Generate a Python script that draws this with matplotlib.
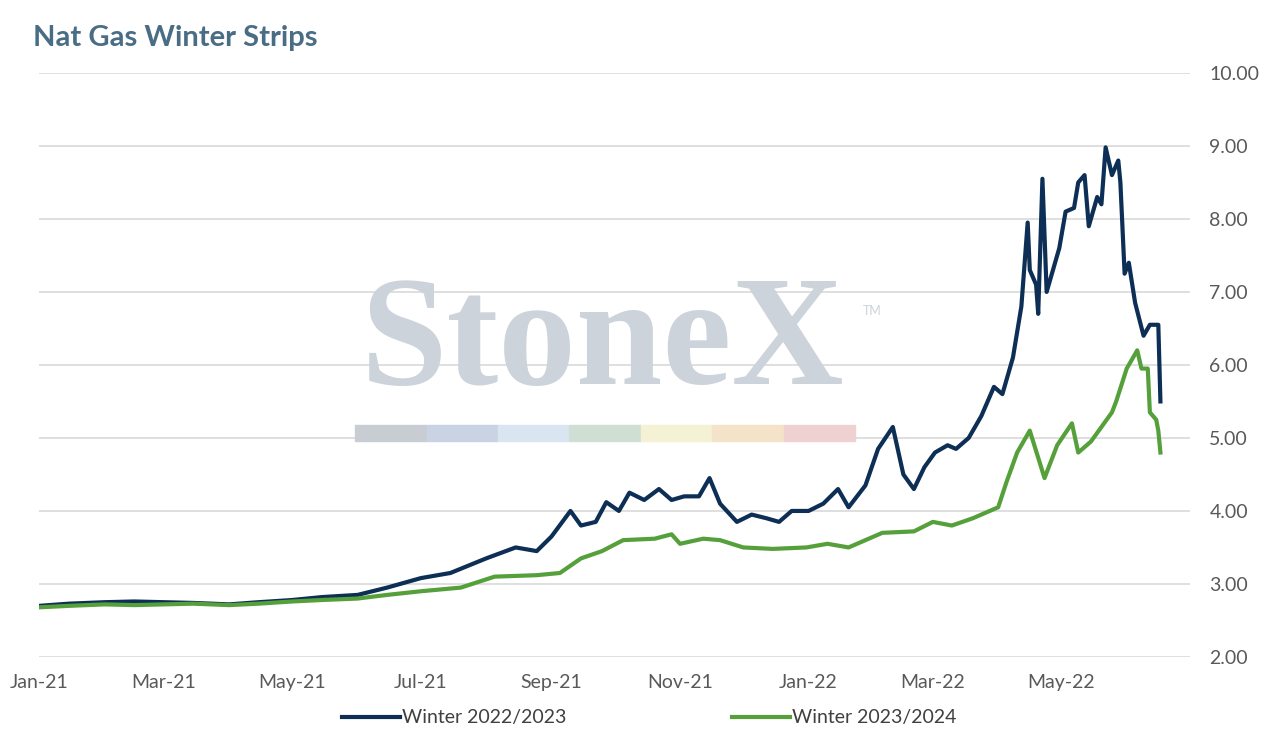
import matplotlib
matplotlib.use("Agg")
import matplotlib.pyplot as plt
import matplotlib.dates as mdates
import pandas as pd

plt.rcParams["font.family"] = ["Lato", "DejaVu Sans"]

winter_22_23 = [
    ("2021-01-01", 2.70), ("2021-01-15", 2.73), ("2021-02-01", 2.75), ("2021-02-15", 2.76),
    ("2021-03-01", 2.75), ("2021-03-15", 2.74), ("2021-04-01", 2.72), ("2021-04-15", 2.75),
    ("2021-05-01", 2.78), ("2021-05-15", 2.82), ("2021-06-01", 2.85), ("2021-06-15", 2.95),
    ("2021-07-01", 3.08), ("2021-07-15", 3.15), ("2021-08-01", 3.35), ("2021-08-15", 3.50),
    ("2021-08-25", 3.45), ("2021-09-01", 3.65), ("2021-09-10", 4.00), ("2021-09-15", 3.80),
    ("2021-09-22", 3.85), ("2021-09-27", 4.12), ("2021-10-03", 4.00), ("2021-10-08", 4.25),
    ("2021-10-15", 4.15), ("2021-10-22", 4.30), ("2021-10-28", 4.15), ("2021-11-03", 4.20),
    ("2021-11-10", 4.20), ("2021-11-15", 4.45), ("2021-11-20", 4.10), ("2021-11-28", 3.85),
    ("2021-12-05", 3.95), ("2021-12-12", 3.90), ("2021-12-18", 3.85), ("2021-12-24", 4.00),
    ("2022-01-01", 4.00), ("2022-01-08", 4.10), ("2022-01-15", 4.30), ("2022-01-20", 4.05),
    ("2022-01-28", 4.35), ("2022-02-03", 4.85), ("2022-02-10", 5.15), ("2022-02-15", 4.50),
    ("2022-02-20", 4.30), ("2022-02-25", 4.60), ("2022-03-02", 4.80), ("2022-03-08", 4.90),
    ("2022-03-12", 4.85), ("2022-03-18", 5.00), ("2022-03-24", 5.30), ("2022-03-30", 5.70),
    ("2022-04-03", 5.60), ("2022-04-08", 6.10), ("2022-04-12", 6.80), ("2022-04-15", 7.95),
    ("2022-04-16", 7.30), ("2022-04-19", 7.10), ("2022-04-20", 6.70), ("2022-04-22", 8.55),
    ("2022-04-24", 7.00), ("2022-04-30", 7.60), ("2022-05-03", 8.10), ("2022-05-07", 8.15),
    ("2022-05-09", 8.50), ("2022-05-12", 8.60), ("2022-05-14", 7.90), ("2022-05-18", 8.30),
    ("2022-05-20", 8.20), ("2022-05-22", 8.98), ("2022-05-25", 8.60), ("2022-05-28", 8.80),
    ("2022-05-29", 8.50), ("2022-05-31", 7.25), ("2022-06-02", 7.40), ("2022-06-05", 6.85),
    ("2022-06-09", 6.40), ("2022-06-12", 6.55), ("2022-06-16", 6.55), ("2022-06-17", 5.50),
]
winter_23_24 = [
    ("2021-01-01", 2.68), ("2021-01-15", 2.70), ("2021-02-01", 2.72), ("2021-02-15", 2.71),
    ("2021-03-01", 2.72), ("2021-03-15", 2.73), ("2021-04-01", 2.71), ("2021-04-15", 2.73),
    ("2021-05-01", 2.76), ("2021-05-15", 2.78), ("2021-06-01", 2.80), ("2021-06-15", 2.85),
    ("2021-07-01", 2.90), ("2021-07-20", 2.95), ("2021-08-05", 3.10), ("2021-08-25", 3.12),
    ("2021-09-05", 3.15), ("2021-09-15", 3.35), ("2021-09-25", 3.45), ("2021-10-05", 3.60),
    ("2021-10-20", 3.62), ("2021-10-28", 3.68), ("2021-11-01", 3.55), ("2021-11-12", 3.62),
    ("2021-11-20", 3.60), ("2021-12-01", 3.50), ("2021-12-15", 3.48), ("2021-12-31", 3.50),
    ("2022-01-10", 3.55), ("2022-01-20", 3.50), ("2022-02-05", 3.70), ("2022-02-20", 3.72),
    ("2022-03-01", 3.85), ("2022-03-10", 3.80), ("2022-03-20", 3.90), ("2022-04-01", 4.05),
    ("2022-04-05", 4.40), ("2022-04-10", 4.80), ("2022-04-16", 5.10), ("2022-04-23", 4.45),
    ("2022-04-29", 4.90), ("2022-05-06", 5.20), ("2022-05-09", 4.80), ("2022-05-15", 4.95),
    ("2022-05-20", 5.15), ("2022-05-25", 5.35), ("2022-05-27", 5.50), ("2022-06-01", 5.95),
    ("2022-06-03", 6.05), ("2022-06-06", 6.20), ("2022-06-08", 5.95), ("2022-06-11", 5.95),
    ("2022-06-12", 5.35), ("2022-06-15", 5.25), ("2022-06-16", 5.10), ("2022-06-17", 4.80),
]

fig = plt.figure(figsize=(12.74, 7.44), dpi=100)
ax = fig.add_axes([0.031, 0.117, 0.903, 0.785])

# watermark
fig.text(0.473, 0.535, "StoneX", fontsize=112, family="Liberation Serif", fontweight="bold",
         color="#cdd3db", ha="center", va="center", zorder=0)
fig.text(0.677, 0.577, "TM", fontsize=9, color="#cdd3db")
strip = ["#c8ccd3", "#c9d3e3", "#d9e6f1", "#cfdfd3", "#f4f1d4", "#f5e3c9", "#f0d1d1"]
for i, c in enumerate(strip):
    fig.patches.append(plt.Rectangle((0.279 + i * 0.056, 0.407), 0.056, 0.022,
                                     transform=fig.transFigure, color=c, zorder=0))

for data, color, label in [(winter_22_23, "#0d2f55", "Winter 2022/2023"),
                           (winter_23_24, "#56a03c", "Winter 2023/2024")]:
    d = pd.DataFrame(data, columns=["date", "price"])
    ax.plot(pd.to_datetime(d["date"]), d["price"], color=color, lw=3, label=label)

ax.set_facecolor("none")
ax.set_ylim(2, 10)
ax.set_yticks(range(2, 11))
ax.yaxis.set_major_formatter(matplotlib.ticker.FormatStrFormatter("%.2f"))
ax.yaxis.tick_right()
ax.set_xlim(pd.Timestamp("2021-01-01"), pd.Timestamp("2022-07-01"))
ax.xaxis.set_major_locator(mdates.MonthLocator(bymonth=[1, 3, 5, 7, 9, 11]))
ax.xaxis.set_major_formatter(mdates.DateFormatter("%b-%y"))
ax.set_xticks([t for t in ax.get_xticks() if t < mdates.date2num(pd.Timestamp("2022-06-01"))])
ax.tick_params(length=0, labelsize=14, colors="#595959", pad=12)
ax.tick_params(axis="y", pad=14)
ax.grid(True, axis="y", color="#d9d9d9", lw=1.2)
for s in ax.spines.values():
    s.set_visible(False)

fig.text(0.026, 0.938, "Nat Gas Winter Strips", fontsize=21, fontweight="bold", color="#4a6d86")
ax.legend(loc="upper center", bbox_to_anchor=(0.53, -0.06), ncol=2, frameon=False,
          fontsize=14, columnspacing=8.5, handlelength=3, handletextpad=0.1,
          labelcolor="#404040")
fig.savefig("out.png", dpi=100)
